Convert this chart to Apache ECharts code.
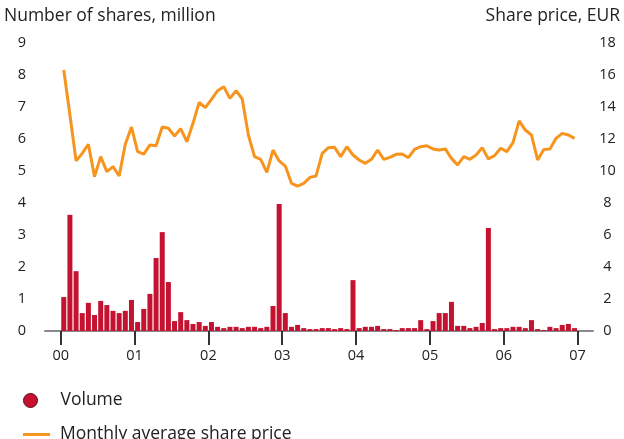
<!DOCTYPE html>
<html>
<head>
<meta charset="utf-8">
<script src="https://cdn.jsdelivr.net/npm/echarts@6/dist/echarts.min.js"></script>
<style>
  html, body { margin: 0; padding: 0; background: #fff; }
  #chart { width: 624px; height: 439px; }
</style>
</head>
<body>
<div id="chart"></div>
<script>
// monthly volume, million shares, Jan 2000 .. Dec 2006
const volume = [
  1.06, 3.63, 1.87, 0.56, 0.88, 0.50, 0.94, 0.81, 0.63, 0.56, 0.63, 0.97,
  0.28, 0.69, 1.16, 2.28, 3.09, 1.53, 0.31, 0.59, 0.34, 0.22, 0.28, 0.16,
  0.28, 0.13, 0.09, 0.13, 0.13, 0.09, 0.13, 0.13, 0.09, 0.13, 0.78, 3.97,
  0.56, 0.13, 0.19, 0.09, 0.06, 0.06, 0.09, 0.09, 0.06, 0.09, 0.06, 1.59,
  0.09, 0.13, 0.13, 0.16, 0.06, 0.06, 0.03, 0.09, 0.09, 0.09, 0.34, 0.06,
  0.31, 0.56, 0.56, 0.91, 0.16, 0.16, 0.09, 0.13, 0.25, 3.22, 0.06, 0.09,
  0.09, 0.13, 0.13, 0.09, 0.34, 0.06, 0.03, 0.13, 0.09, 0.19, 0.22, 0.09
];

// monthly average share price, EUR
const price = [
  16.31, 13.50, 10.63, 11.10, 11.67, 9.65, 10.90, 9.96, 10.27, 9.69, 11.67, 12.75,
  11.21, 11.06, 11.63, 11.58, 12.75, 12.67, 12.19, 12.65, 11.83, 12.98, 14.29, 13.96,
  14.48, 15.02, 15.27, 14.54, 15.02, 14.50, 12.25, 10.90, 10.73, 9.92, 11.31, 10.63,
  10.31, 9.23, 9.06, 9.23, 9.60, 9.69, 11.10, 11.46, 11.48, 10.90, 11.52, 11.00,
  10.69, 10.48, 10.73, 11.31, 10.73, 10.85, 11.04, 11.06, 10.83, 11.35, 11.52, 11.58,
  11.38, 11.31, 11.38, 10.79, 10.38, 10.90, 10.73, 11.00, 11.46, 10.75, 10.96, 11.42,
  11.21, 11.77, 13.13, 12.56, 12.25, 10.69, 11.35, 11.38, 12.04, 12.35, 12.25, 12.04
];

const yearLabels = ['00', '01', '02', '03', '04', '05', '06', '07'];
const yearTicks = yearLabels.map((_, i) => i * 12);

const font = 'Open Sans';
const textColor = '#222';

const chart = echarts.init(document.getElementById('chart'));

chart.setOption({
  animation: false,
  textStyle: { fontFamily: font },
  title: [
    {
      text: 'Number of shares, million',
      left: 4, top: 7, padding: 0,
      textStyle: { fontFamily: font, fontSize: 17.5, fontWeight: 'normal', color: textColor }
    },
    {
      text: 'Share price, EUR',
      right: 4, top: 7, padding: 0,
      textStyle: { fontFamily: font, fontSize: 17.5, fontWeight: 'normal', color: textColor }
    }
  ],
  legend: [
    {
      data: ['Volume'],
      icon: 'circle',
      left: 23, top: 390, padding: 0,
      itemWidth: 14, itemHeight: 14,
      itemStyle: { borderColor: '#5e0a18', borderWidth: 1 },
      textStyle: { fontFamily: font, fontSize: 17.5, color: textColor, lineHeight: 21, padding: [0, 0, 0, 18] }
    },
    {
      data: [{ name: 'Monthly average share price', icon: 'rect' }],
      left: 23, top: 424, padding: 0,
      itemWidth: 27, itemHeight: 3,
      textStyle: { fontFamily: font, fontSize: 17.5, color: textColor, lineHeight: 21, padding: [0, 0, 0, 5] }
    }
  ],
  grid: { left: 45, right: 31, top: 43, bottom: 108 },
  xAxis: {
    type: 'value',
    min: -2.55,
    max: 86.5,
    axisLine: { show: true, lineStyle: { color: '#8a8a8a', width: 2 } },
    axisTick: {
      show: true, length: 14, inside: false,
      customValues: yearTicks,
      lineStyle: { color: '#333', width: 2 }
    },
    axisLabel: {
      customValues: yearTicks,
      formatter: v => yearLabels[Math.round(v / 12)],
      margin: 17,
      fontFamily: font, fontSize: 14.5, color: textColor
    },
    splitLine: { show: false }
  },
  yAxis: [
    {
      type: 'value', min: 0, max: 9, interval: 1,
      axisLine: { show: false }, axisTick: { show: false }, splitLine: { show: false },
      axisLabel: { margin: 19, fontFamily: font, fontSize: 14.5, color: textColor }
    },
    {
      type: 'value', min: 0, max: 18, interval: 2, position: 'right',
      axisLine: { show: false }, axisTick: { show: false }, splitLine: { show: false },
      axisLabel: { margin: 14.5, align: 'center', fontFamily: font, fontSize: 14.5, color: textColor }
    }
  ],
  series: [
    {
      name: 'Volume',
      type: 'bar',
      yAxisIndex: 0,
      barWidth: 5,
      itemStyle: { color: '#c41230' },
      data: volume.map((v, i) => [i + 0.5, v])
    },
    {
      name: 'Monthly average share price',
      type: 'line',
      yAxisIndex: 1,
      symbol: 'none',
      lineStyle: { color: '#f7941d', width: 3 },
      itemStyle: { color: '#f7941d' },
      data: price.map((v, i) => [i + 0.5, v])
    }
  ]
});
</script>
</body>
</html>
